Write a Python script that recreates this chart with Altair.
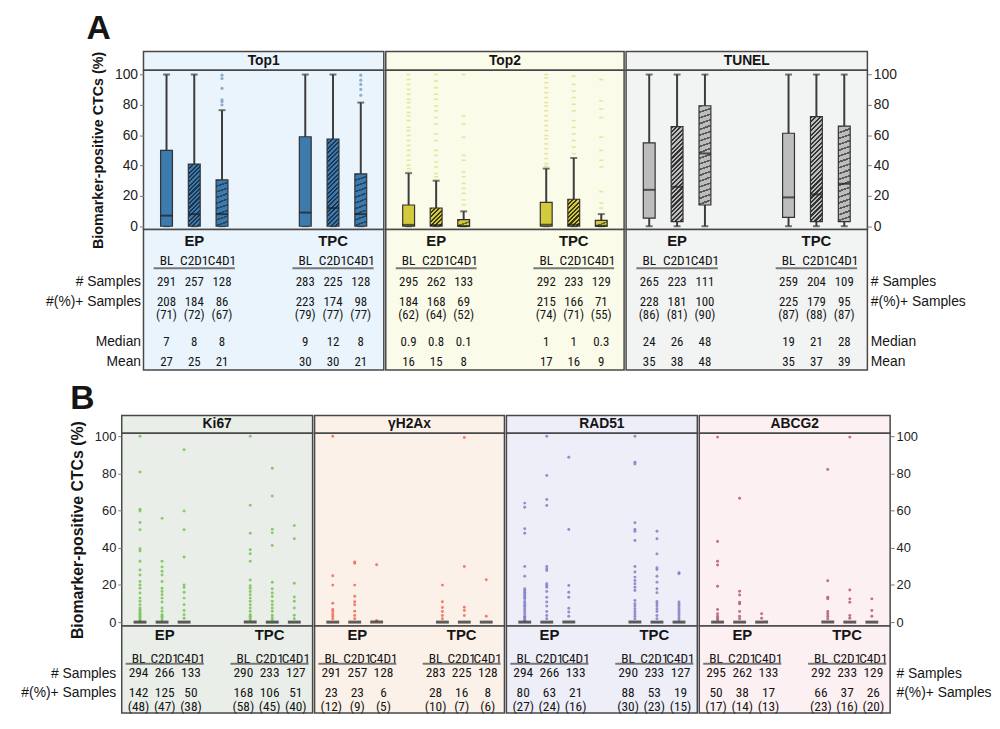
import altair as alt
import pandas as pd

FONT = "Liberation Sans"
NARROW = "Roboto Condensed"
BORDER = "#484848"
INK = "#151515"
WHISKER = "#3c3c3c"

GROUPS = ["EP", "TPC"]
TIMES = ["BL", "C2D1", "C4D1"]
COLS = [f"{g} {t}" for g in GROUPS for t in TIMES]
XDOM = COLS[:3] + ["gap 1", "gap 2"] + COLS[3:]
XDOM_BTAB = COLS[:3] + ["gap 1"] + COLS[3:]
ROW_LABELS = {"n": "# Samples", "npos": "#(%)+ Samples", "median": "Median", "mean": "Mean"}
Y_TICKS = [0, 20, 40, 60, 80, 100]
Y_TITLE = "Biomarker-positive CTCs (%)"

# ---------------- Panel A : box plots ----------------
A_MARKERS = ["Top1", "Top2", "TUNEL"]

TOP1_WLO = [0, 0, 0, 0, 0, 0]
TOP1_Q1 = [0, 0, 0, 0, 0, 0]
TOP1_MED = [7, 8, 8, 9, 12, 8]
TOP1_Q3 = [50, 41, 30.5, 59, 57.5, 34.5]
TOP1_WHI = [100, 100, 76.5, 100, 100, 81.5]
TOP1_OUT = [[], [], [80, 82.2, 83.3, 90.9, 97.4, 99.6], [], [], [86.3, 90.2, 93.5, 96.3, 99.6]]
TOP1_N = [291, 257, 128, 283, 225, 128]
TOP1_POS = [208, 184, 86, 223, 174, 98]
TOP1_PCT = [71, 72, 67, 79, 77, 77]
TOP1_MEDIAN = ["7", "8", "8", "9", "12", "8"]
TOP1_MEAN = [27, 25, 21, 30, 30, 21]

TOP2_WLO = [0, 0, 0, 0, 0, 0]
TOP2_Q1 = [0, 0, 0, 0, 0, 0]
TOP2_MED = [0.9, 0.8, 0.1, 1, 1, 0.3]
TOP2_Q3 = [14, 12, 4.3, 15.7, 17.8, 3.9]
TOP2_WHI = [35, 30, 9.8, 38, 45, 8]
TOP2_OUT = [
    [36, 38, 40.2, 43.5, 46.7, 50, 53.3, 56.5, 59.8, 63, 65.2, 69.6, 72.8, 75, 78.3, 81.5, 83.7, 87, 90.2, 93.5, 96.7, 100],
    [32.6, 34.8, 39.1, 42.4, 46.7, 50, 56.5, 60.9, 67.4, 71.7, 76.1, 79.3, 83.7, 87, 91.3, 95.7, 100],
    [14.1, 17.4, 21.7, 25, 28.3, 32.6, 35.9, 43.5, 46.7, 58.7, 67.4, 72.8, 100],
    [39.6, 41.3, 44.6, 47.8, 51.1, 54.3, 57.6, 59.8, 63, 66.3, 69.6, 72.8, 76.1, 79.3, 81.5, 84.8, 88, 91.3, 94.6, 97.8, 100],
    [47.8, 52.2, 56.5, 60.9, 65.2, 69.6, 76.1, 80.4, 84.8, 89.1, 93.5, 98.9],
    [12, 15.2, 22.8, 39.1, 43.5, 50, 58.7, 71.7, 77.2, 82.6, 96.7],
]
TOP2_N = [295, 262, 133, 292, 233, 129]
TOP2_POS = [184, 168, 69, 215, 166, 71]
TOP2_PCT = [62, 64, 52, 74, 71, 55]
TOP2_MEDIAN = ["0.9", "0.8", "0.1", "1", "1", "0.3"]
TOP2_MEAN = [16, 15, 8, 17, 16, 9]

TUNEL_WLO = [0, 0, 0, 0, 0, 0]
TUNEL_Q1 = [5.3, 3.1, 14, 5.9, 3.1, 3.1]
TUNEL_MED = [24, 26, 48, 19, 21, 28]
TUNEL_Q3 = [55, 65.6, 79.4, 61.3, 72.2, 66]
TUNEL_WHI = [100, 100, 100, 100, 100, 100]
TUNEL_OUT = [[], [], [], [], [], []]
TUNEL_N = [265, 223, 111, 259, 204, 109]
TUNEL_POS = [228, 181, 100, 225, 179, 95]
TUNEL_PCT = [86, 81, 90, 87, 88, 87]
TUNEL_MEDIAN = ["24", "26", "48", "19", "21", "28"]
TUNEL_MEAN = [35, 38, 48, 35, 37, 39]

# ---------------- Panel B : dot plots ----------------
B_MARKERS = ["Ki67", "γH2Ax", "RAD51", "ABCG2"]

KI67_BOX = [0, 0, 0, 0, 0, 0]
KI67_DOTS = [
    [100, 80.7, 60.7, 59.8, 53.6, 49.7, 39.5, 38.2, 32.7, 28, 25.3, 21.8, 20, 18.2, 15.6, 12.9, 11.2, 9.4, 7.6, 6.6, 5.8, 4.8, 4, 3.2, 2.3, 1.4, 0.8],
    [55.8, 32.7, 29.7, 27.4, 25.3, 21.8, 18.2, 16.5, 14.7, 12.9, 10.8, 7.6, 5.8, 4, 3.1, 2.3, 1.2],
    [92.7, 59.8, 49.7, 35, 20, 18.6, 16.1, 12.9, 9.4, 6.2, 4, 2.1],
    [100, 62.8, 47.8, 38.9, 36.8, 32.7, 22.7, 19.6, 18.2, 16.5, 14.7, 12.9, 11.2, 9.4, 7.6, 5.8, 4, 3.1, 2.3, 1.2],
    [82.8, 67.8, 50, 48, 41.2, 21.4, 17.9, 15.6, 13.8, 11.2, 9.4, 7.6, 5.8, 3.7, 2.3, 1.2],
    [51.9, 44.8, 20.9, 13.5, 11.2, 7.6, 3.7, 1.8],
]
KI67_N = [294, 266, 133, 290, 233, 127]
KI67_POS = [142, 125, 50, 168, 106, 51]
KI67_PCT = [48, 47, 38, 58, 45, 40]

GH2AX_BOX = [0, 0, 0, 0, 0, 0]
GH2AX_DOTS = [
    [100, 24.9, 19.9, 10.1, 6.8, 5.7, 4.4, 3.2, 1.8],
    [32.4, 31.7, 19.9, 13.9, 11, 9.3, 5.9, 3.6, 1.8],
    [30.8, 0.9],
    [19.9, 11, 7.8, 5.7, 3.6, 1.8],
    [99.3, 29.9, 8, 6.2, 3.6],
    [22.8, 3.2],
]
GH2AX_N = [291, 257, 128, 283, 225, 128]
GH2AX_POS = [23, 23, 6, 28, 16, 8]
GH2AX_PCT = [12, 9, 5, 10, 7, 6]

RAD51_BOX = [0, 0, 0, 0, 0, 0]
RAD51_DOTS = [
    [64, 61.8, 50.2, 47.8, 29.9, 24.7, 17.9, 17, 16.1, 15.2, 14.3, 13.4, 12.5, 11.1, 10, 9, 8.1, 6.9, 5.7, 4.5, 3.2, 2.5, 1.8, 1],
    [100, 78.9, 66, 62.7, 29.9, 28.7, 27.8, 20.6, 19.7, 18.8, 16.5, 13.4, 10.8, 8.6, 5.7, 3.6, 1.8],
    [88.7, 49.8, 19.7, 16.1, 13.4, 7.5, 5.4, 3.2],
    [100, 86, 85.1, 53.4, 49.8, 48.9, 43.9, 29.9, 26.9, 24.2, 22.4, 20.6, 18.8, 17, 11.6, 9.9, 8.6, 7.2, 5.7, 4.5, 3.2, 1.8],
    [48.9, 44.8, 36.7, 29.2, 28.3, 24.7, 21.5, 17.9, 15.8, 11.1, 9.9, 8.6, 7.2, 5.7, 3.6, 1.8],
    [26.5, 26, 10.8, 9.6, 8.4, 7.2, 6, 4.8, 3.6, 2.4, 1.2],
]
RAD51_N = [294, 266, 133, 290, 233, 127]
RAD51_POS = [80, 63, 21, 88, 53, 19]
RAD51_PCT = [27, 24, 16, 30, 23, 15]

ABCG2_BOX = [0, 0, 0, 0, 0, 0]
ABCG2_DOTS = [
    [99.5, 43.4, 32.7, 30.7, 19.3, 6.8, 4.5, 3.2, 2.1, 1.2],
    [66.6, 16.6, 14.6, 10.7, 9.8, 5.7, 3.2, 1.8],
    [4.5, 2.1],
    [82.1, 22.3, 13.4, 12.5, 5.7, 4.5, 3.2, 1.8],
    [99.5, 17.3, 12.5, 10.7, 3.6, 2.1],
    [12.5, 6.2, 3.2],
]
ABCG2_N = [295, 262, 133, 292, 233, 129]
ABCG2_POS = [50, 38, 17, 66, 37, 26]
ABCG2_PCT = [17, 14, 13, 23, 16, 20]

# ---------------- layout / style ----------------
A_WIDTHS = [243, 241, 244]
A_HEAD_H, A_PLOT_H, A_TAB_H = 19, 161, 142
A_YDOM = [-2.15, 102.8]
A_ROWS = ["hdr", "a1", "a2", "time", "uline", "a3", "n", "a4", "a5", "npos", "a6",
          "pct", "a7", "a8", "a9", "median", "a10", "a11", "mean"]
A_ROW_RANGE = [12, 134]

B_WIDTHS = [193, 192, 193, 193]
B_HEAD_H, B_PLOT_H, B_TAB_H = 18, 195, 88
B_YDOM = [-2.13, 101.6]
B_ROWS = ["hdr", "b1", "b2", "b3", "b4", "time", "uline", "b5", "n", "b6", "b7", "b8",
          "npos", "b9", "b10", "pct"]
B_ROW_RANGE = [9, 82]

X_PAD = 0.83
X_PAD_BTAB = 0.64
A_BG = ["#e9f4fc", "#fbfbe9", "#f2f3f3"]
A_BOXCOL = ["#3d7aae", "#d3cb3b", "#bdbdbd"]
A_HATCH = ["#1c3550", "#3b3818", "#343434"]
A_STRIPE = ["#24486a", "#6d6a2a", "#5a5a5a"]
B_BG = ["#e9efe8", "#fcf1e8", "#eeeef8", "#fdf0f3"]
B_DOT = ["#78c257", "#f06b55", "#7f7fc4", "#b5587a"]


def view(bg):
    return alt.ViewBackground(fill=bg, stroke=BORDER, strokeWidth=1.5)


def xenc(field="col", dom=XDOM, pad=X_PAD):
    return alt.X(field + ":N", scale=alt.Scale(type="point", domain=dom, padding=pad), axis=None)


def stripes(w, h, base, line, period, a, b, frac):
    h = max(h, 1.0)
    span = a * w + b * h
    s = span / ((a * w) ** 2 + (b * h) ** 2)
    n = max(1, int(round(span / (a * a + b * b) ** 0.5 / period)))
    stops = []
    for i in range(n):
        o0, o1, o2 = i / n, (i + frac) / n, (i + 1) / n
        stops += [
            alt.GradientStop(offset=round(o0, 5), color=line),
            alt.GradientStop(offset=round(o1, 5), color=line),
            alt.GradientStop(offset=round(o1, 5), color=base),
            alt.GradientStop(offset=round(o2, 5), color=base),
        ]
    return alt.LinearGradient(gradient="linear", stops=stops, x1=0, y1=0,
                              x2=round(a * w * s, 5), y2=round(b * h * s, 5))


def plot_axis(side, label_size, title_size, title_pad):
    common = dict(values=Y_TICKS, grid=False, domain=False, tickSize=4, tickColor="#777",
                  labelFont=FONT, labelFontSize=label_size, labelColor="#222", labelPadding=2)
    if side == "left":
        return alt.Axis(orient="left", title=Y_TITLE, titleFont=FONT, titleFontSize=title_size,
                        titleFontWeight="bold", titleColor=INK, titlePadding=title_pad, **common)
    if side == "right":
        return alt.Axis(orient="right", title=None, **common)
    return None


def header(name, bg, w, h):
    return alt.Chart(pd.DataFrame({"name": [name]})).mark_text(
        font=FONT, fontSize=14, fontWeight="bold", color=INK
    ).encode(text="name:N").properties(width=w, height=h, view=view(bg))


def box_plot(k, wlo, q1, med, q3, whi, out, w, side):
    df = pd.DataFrame({"col": COLS, "wlo": wlo, "q1": q1, "med": med, "q3": q3, "whi": whi})
    ys = alt.Scale(domain=A_YDOM, nice=False, zero=False)
    ax = plot_axis(side, 14, 14.5, 9)
    px = A_PLOT_H / (A_YDOM[1] - A_YDOM[0])

    def Y(f):
        return alt.Y(f + ":Q", scale=ys, axis=ax)

    base = alt.Chart(df)
    layers = [
        base.mark_rule(color=WHISKER, strokeWidth=2).encode(x=xenc(), y=Y("wlo"), y2=alt.Y2("whi")),
        base.mark_tick(color=WHISKER, size=7, thickness=2).encode(x=xenc(), y=Y("whi")),
        base.mark_tick(color=WHISKER, size=7, thickness=2).encode(x=xenc(), y=Y("wlo")),
    ]
    for i, c in enumerate(COLS):
        t = TIMES[i % 3]
        hpx = (q3[i] - q1[i]) * px
        if t == "BL":
            fill = A_BOXCOL[k]
        elif t == "C2D1":
            fill = stripes(12, hpx, A_BOXCOL[k], A_HATCH[k], 3.2, 1, 1, 0.5)
        else:
            fill = stripes(12, hpx, A_BOXCOL[k], A_STRIPE[k], 5.5, 0.35, 1, 0.3)
        layers.append(
            base.transform_filter(alt.datum.col == c)
            .mark_bar(size=12, fill=fill, stroke="#333333", strokeWidth=1.2)
            .encode(x=xenc(), y=Y("q1"), y2=alt.Y2("q3"))
        )
    layers.append(base.mark_tick(color="#1e1e1e", size=12, thickness=2).encode(x=xenc(), y=Y("med")))
    orecs = [{"col": c, "v": v} for c, vals in zip(COLS, out) for v in vals]
    if orecs:
        od = alt.Chart(pd.DataFrame(orecs))
        if k == 0:
            layers.append(od.mark_circle(size=10, color="#8aa4c2", opacity=0.9).encode(x=xenc(), y=Y("v")))
        else:
            layers.append(od.mark_tick(size=4, thickness=1.6, color="#dedb7a").encode(x=xenc(), y=Y("v")))
    return alt.layer(*layers).properties(width=w, height=A_PLOT_H, view=view(A_BG[k]))


def dot_plot(k, boxv, dots, w, side):
    ys = alt.Scale(domain=B_YDOM, nice=False, zero=False)
    ax = plot_axis(side, 13, 16, 9)
    recs = [{"col": c, "v": v} for c, vals in zip(COLS, dots) for v in vals]
    dd = alt.Chart(pd.DataFrame(recs))
    bd = alt.Chart(pd.DataFrame({"col": COLS, "v": boxv}))
    layers = [
        dd.mark_circle(size=9, color=B_DOT[k], opacity=0.85).encode(
            x=xenc(), y=alt.Y("v:Q", scale=ys, axis=ax)),
        bd.mark_tick(size=13, thickness=3, color="#1c1c1c").encode(
            x=xenc(), y=alt.Y("v:Q", scale=ys, axis=ax)),
    ]
    return alt.layer(*layers).properties(width=w, height=B_PLOT_H, view=view(B_BG[k]))


def table(bg, w, h, rows, rng, side, pad, dom, xpad, num_size, n, pos, pct, med=None, mean=None):
    recs = []
    for g in GROUPS:
        recs.append({"col": f"{g} C2D1", "row": "hdr", "txt": g, "kind": "hdr"})
    for i, c in enumerate(COLS):
        recs.append({"col": c, "row": "time", "txt": TIMES[i % 3], "kind": "time"})
        recs.append({"col": c, "row": "n", "txt": str(n[i]), "kind": "body"})
        recs.append({"col": c, "row": "npos", "txt": str(pos[i]), "kind": "body"})
        recs.append({"col": c, "row": "pct", "txt": f"({pct[i]})", "kind": "body"})
        if med is not None:
            recs.append({"col": c, "row": "median", "txt": str(med[i]), "kind": "body"})
            recs.append({"col": c, "row": "mean", "txt": str(mean[i]), "kind": "body"})
    df = pd.DataFrame(recs)
    yscale = alt.Scale(type="point", domain=rows, range=rng, padding=0)
    if side in ("left", "right"):
        expr = " : ".join(f"datum.value == '{key}' ? '{lab}'" for key, lab in ROW_LABELS.items()) + " : ''"
        ax = alt.Axis(orient=side, title=None, labelExpr=expr, domain=False, ticks=False, grid=False,
                      labelFont=FONT, labelFontSize=14, labelColor=INK, labelPadding=pad,
                      labelOverlap=False, labelLimit=200)
    else:
        ax = None
    y = alt.Y("row:N", scale=yscale, axis=ax)
    x = xenc("col", dom, xpad)
    base = alt.Chart(df)
    body = base.transform_filter(alt.datum.kind == "body").mark_text(
        font=NARROW, fontSize=num_size, color=INK).encode(x=x, y=y, text="txt:N")
    tlab = base.transform_filter(alt.datum.kind == "time").mark_text(
        font=NARROW, fontSize=13.5, color=INK).encode(x=x, y=y, text="txt:N")
    hdr = base.transform_filter(alt.datum.kind == "hdr").mark_text(
        font=FONT, fontSize=15, fontWeight="bold", color=INK).encode(x=x, y=y, text="txt:N")
    ul = alt.Chart(pd.DataFrame({"c0": [f"{g} BL" for g in GROUPS], "c1": [f"{g} C4D1" for g in GROUPS],
                                 "row": ["uline", "uline"]})).mark_rule(
        color="#777777", strokeWidth=2, xOffset=-13, x2Offset=13).encode(
        x=xenc("c0", dom, xpad), x2=alt.X2("c1"), y=y)
    return alt.layer(body, tlab, hdr, ul).properties(width=w, height=h, view=view(bg))


def spacer(width):
    return alt.Chart(pd.DataFrame({"s": [""]})).mark_text().encode(text="s:N").properties(
        width=width, height=10, view=alt.ViewBackground(fill="transparent", stroke="transparent"))


a_stats = [
    (TOP1_WLO, TOP1_Q1, TOP1_MED, TOP1_Q3, TOP1_WHI, TOP1_OUT, TOP1_N, TOP1_POS, TOP1_PCT, TOP1_MEDIAN, TOP1_MEAN),
    (TOP2_WLO, TOP2_Q1, TOP2_MED, TOP2_Q3, TOP2_WHI, TOP2_OUT, TOP2_N, TOP2_POS, TOP2_PCT, TOP2_MEDIAN, TOP2_MEAN),
    (TUNEL_WLO, TUNEL_Q1, TUNEL_MED, TUNEL_Q3, TUNEL_WHI, TUNEL_OUT, TUNEL_N, TUNEL_POS, TUNEL_PCT, TUNEL_MEDIAN, TUNEL_MEAN),
]
a_cols = []
for k, name in enumerate(A_MARKERS):
    wlo, q1, med, q3, whi, out, n, pos, pct, mtxt, mean = a_stats[k]
    side = "left" if k == 0 else ("right" if k == len(A_MARKERS) - 1 else "none")
    w = A_WIDTHS[k]
    a_cols.append(alt.vconcat(
        header(name, A_BG[k], w, A_HEAD_H),
        box_plot(k, wlo, q1, med, q3, whi, out, w, side),
        table(A_BG[k], w, A_TAB_H, A_ROWS, A_ROW_RANGE, side, 3, XDOM, X_PAD, 13, n, pos, pct, mtxt, mean),
        spacing=0, bounds="flush"))

b_stats = [
    (KI67_BOX, KI67_DOTS, KI67_N, KI67_POS, KI67_PCT),
    (GH2AX_BOX, GH2AX_DOTS, GH2AX_N, GH2AX_POS, GH2AX_PCT),
    (RAD51_BOX, RAD51_DOTS, RAD51_N, RAD51_POS, RAD51_PCT),
    (ABCG2_BOX, ABCG2_DOTS, ABCG2_N, ABCG2_POS, ABCG2_PCT),
]
b_cols = []
for k, name in enumerate(B_MARKERS):
    boxv, dots, n, pos, pct = b_stats[k]
    side = "left" if k == 0 else ("right" if k == len(B_MARKERS) - 1 else "none")
    w = B_WIDTHS[k]
    b_cols.append(alt.vconcat(
        header(name, B_BG[k], w, B_HEAD_H),
        dot_plot(k, boxv, dots, w, side),
        table(B_BG[k], w, B_TAB_H, B_ROWS, B_ROW_RANGE, side, 6, XDOM_BTAB, X_PAD_BTAB, 13.5, n, pos, pct),
        spacing=0, bounds="flush"))

panel_a = alt.hconcat(spacer(27), *a_cols, spacing=0).properties(
    title=alt.TitleParams("A", anchor="start", font=FONT, fontSize=34, fontWeight="bold",
                          color=INK, dx=71, offset=4.5))
panel_b = alt.hconcat(spacer(2), *b_cols, spacing=0).properties(
    title=alt.TitleParams("B", anchor="start", font=FONT, fontSize=34, fontWeight="bold",
                          color=INK, dx=54.5, offset=-2))

chart = alt.vconcat(panel_a, panel_b, spacing=11).properties(
    padding={"left": 8, "top": 0, "right": 0, "bottom": 0}
).configure(font=FONT)

chart.save("out.html", embed_options={"renderer": "svg", "actions": False})
